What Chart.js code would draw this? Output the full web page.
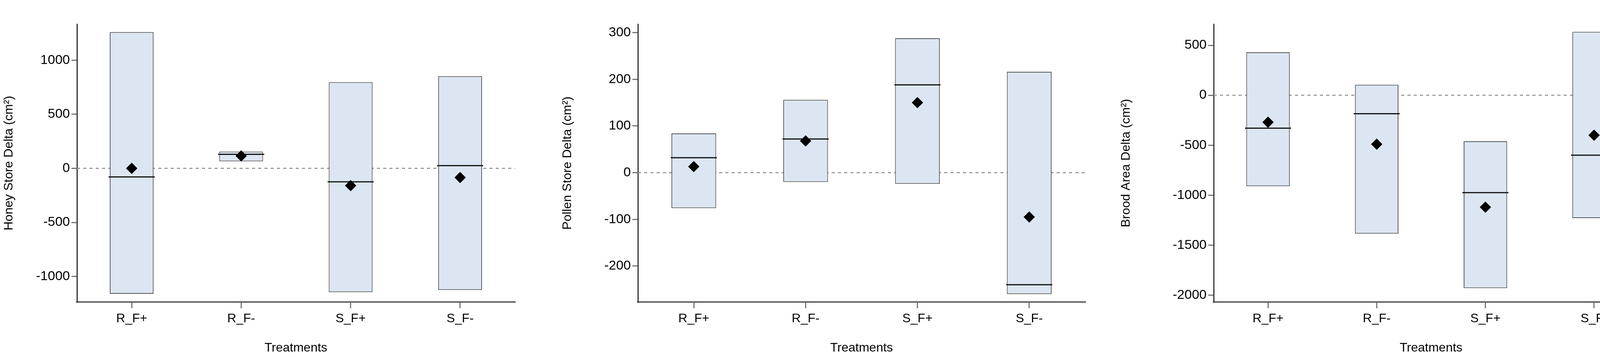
<!DOCTYPE html>
<html>
<head>
<meta charset="utf-8">
<script src="https://cdn.jsdelivr.net/npm/chart.js@4.4.1/dist/chart.umd.min.js"></script>
<style>
  body { margin: 0; background: #fff; width: 4282px; height: 915px; position: relative; overflow: hidden; }
  .panel { position: absolute; top: 0; height: 915px; }
</style>
</head>
<body>
<div class="panel" style="left:0;width:1380px"><canvas id="honey"></canvas></div>
<div class="panel" style="left:1430px;width:1410px"><canvas id="pollen"></canvas></div>
<div class="panel" style="left:2860px;width:1422px"><canvas id="brood"></canvas></div>
<script>
// Data
const treatments = ['R_F+', 'R_F-', 'S_F+', 'S_F-'];

const honeyBoxes = [[-1160, 1260], [65, 155], [-1145, 797], [-1125, 852]];
const honeyMedian = [-80, 130, -125, 25];
const honeyMean = [0, 115, -160, -85];
const honeyTicks = [-1000, -500, 0, 500, 1000];

const pollenBoxes = [[-76, 84], [-20, 156], [-24, 288], [-260, 216]];
const pollenMedian = [32, 72, 188, -240];
const pollenMean = [13, 68, 150, -95];
const pollenTicks = [-200, -100, 0, 100, 200, 300];

const broodBoxes = [[-910, 430], [-1385, 105], [-1930, -460], [-1230, 635]];
const broodMedian = [-330, -185, -975, -600];
const broodMean = [-270, -490, -1120, -400];
const broodTicks = [-2000, -1500, -1000, -500, 0, 500];

const FONT = "'Liberation Sans Narrow', 'Arial Narrow', 'Liberation Sans', sans-serif";

// dashed reference line at zero
const zeroLine = {
    id: 'zeroLine',
    beforeDatasetsDraw(chart) {
        const { ctx, chartArea, scales } = chart;
        const y = scales.y.getPixelForValue(0);
        ctx.save();
        ctx.strokeStyle = '#9a9a9a';
        ctx.lineWidth = 3;
        ctx.setLineDash([8, 8]);
        ctx.beginPath();
        ctx.moveTo(chartArea.left, y);
        ctx.lineTo(chartArea.right, y);
        ctx.stroke();
        ctx.restore();
    }
};

function createBoxChart(canvasId, boxes, medians, means, ticks, yMin, yMax, yTitle, axisWidth, top) {
    const ctx = document.getElementById(canvasId).getContext('2d');
    return new Chart(ctx, {
        data: {
            labels: treatments,
            datasets: [
                {
                    type: 'line', data: means, showLine: false,
                    pointStyle: 'rectRot', pointRadius: 14,
                    pointBackgroundColor: '#000', pointBorderColor: '#000', order: 0
                },
                {
                    type: 'line', data: medians, showLine: false,
                    pointStyle: 'line', pointRadius: 59, pointBorderWidth: 3,
                    pointBorderColor: '#111', order: 1
                },
                {
                    type: 'bar', data: boxes,
                    backgroundColor: '#dce6f2', borderColor: '#555',
                    borderWidth: 2, borderSkipped: false,
                    barPercentage: 0.4, categoryPercentage: 1, order: 2
                }
            ]
        },
        options: {
            responsive: true,
            maintainAspectRatio: false,
            animation: false,
            layout: { padding: { top: top, right: 0, left: 0, bottom: 0 } },
            plugins: { legend: { display: false }, tooltip: { enabled: false } },
            scales: {
                x: {
                    type: 'category',
                    offset: true,
                    border: { color: '#666', width: 4 },
                    grid: { offset: false, drawOnChartArea: false, drawTicks: true, tickLength: 16, color: '#777', lineWidth: 3 },
                    ticks: { color: '#000', font: { family: FONT, size: 32 }, padding: 8 },
                    title: { display: true, text: 'Treatments', color: '#000', font: { family: FONT, size: 32 }, padding: { top: 16 } },
                    afterFit: (scale) => { scale.height = 141; }
                },
                y: {
                    min: yMin, max: yMax,
                    border: { color: '#333', width: 3 },
                    grid: { drawOnChartArea: false, drawTicks: true, tickLength: 14, color: '#777', lineWidth: 3 },
                    afterBuildTicks: (scale) => { scale.ticks = ticks.map(v => ({ value: v })); },
                    ticks: { color: '#000', font: { family: FONT, size: 34 }, padding: 4, callback: (v) => String(v) },
                    title: { display: true, text: yTitle, color: '#000', font: { family: FONT, size: 32 } },
                    afterFit: (scale) => { scale.width = axisWidth; }
                }
            }
        },
        plugins: [zeroLine]
    });
}

createBoxChart('honey', honeyBoxes, honeyMedian, honeyMean, honeyTicks, -1236, 1333, 'Honey Store Delta (cm²)', 197, 23);
createBoxChart('pollen', pollenBoxes, pollenMedian, pollenMean, pollenTicks, -277, 318, 'Pollen Store Delta (cm²)', 203, 26);
createBoxChart('brood', broodBoxes, broodMedian, broodMean, broodTicks, -2069, 711, 'Brood Area Delta (cm²)', 247, 23);
</script>
</body>
</html>
